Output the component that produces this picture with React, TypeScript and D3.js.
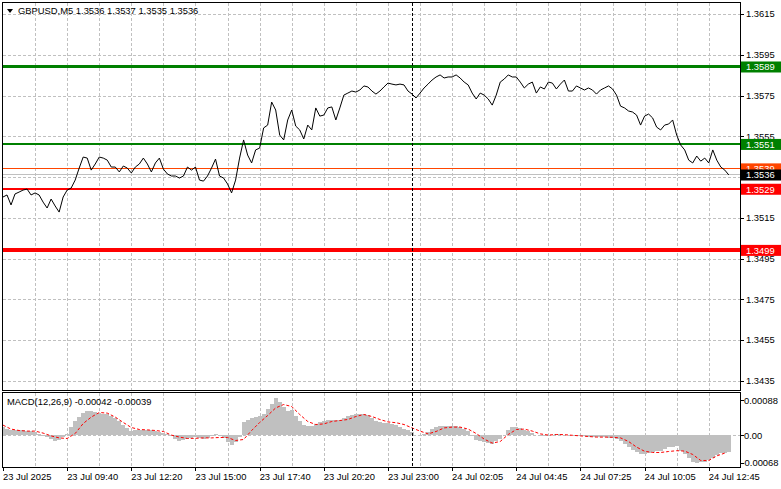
import * as d3 from "d3";

// GBPUSD M5 with MACD(12,26,9)

const symbolTitle = "GBPUSD,M5  1.3536 1.3537 1.3535 1.3536";
const macdTitle = "MACD(12,26,9) -0.00042 -0.00039";

const priceTicks = [1.3615, 1.3595, 1.3575, 1.3555, 1.3535, 1.3515, 1.3495, 1.3475, 1.3455, 1.3435];
const macdTicks = [0.00088, 0, -0.00068];
const timeLabels = [
  "23 Jul 2025", "23 Jul 09:40", "23 Jul 12:20", "23 Jul 15:00", "23 Jul 17:40", "23 Jul 20:20",
  "23 Jul 23:00", "24 Jul 02:05", "24 Jul 04:45", "24 Jul 07:25", "24 Jul 10:05", "24 Jul 12:45",
];

// one close every 2 bars (10 min)
const closes = [
  1.35252, 1.35262, 1.35213, 1.35267, 1.35276, 1.35286, 1.35291, 1.35262, 1.35272, 1.35262,
  1.35227, 1.35198, 1.35242, 1.35208, 1.35178, 1.35252, 1.35286, 1.35296, 1.35335, 1.35394,
  1.35448, 1.35443, 1.35384, 1.35414, 1.35448, 1.35443, 1.35433, 1.35399, 1.35399, 1.35375,
  1.35404, 1.35394, 1.35370, 1.35399, 1.35414, 1.35443, 1.35414, 1.35375, 1.35419, 1.35443,
  1.35389, 1.35365, 1.35355, 1.35355, 1.35345, 1.35355, 1.35399, 1.35384, 1.35399, 1.35335,
  1.35330, 1.35355, 1.35394, 1.35438, 1.35355, 1.35345, 1.35316, 1.35272, 1.35335, 1.35443,
  1.35532, 1.35458, 1.35419, 1.35483, 1.35492, 1.35591, 1.35605, 1.35718, 1.35679, 1.35556,
  1.35532, 1.35630, 1.35679, 1.35600, 1.35581, 1.35537, 1.35605, 1.35581, 1.35689, 1.35649,
  1.35654, 1.35689, 1.35694, 1.35630, 1.35689, 1.35752, 1.35762, 1.35772, 1.35767, 1.35777,
  1.35797, 1.35792, 1.35772, 1.35757, 1.35772, 1.35792, 1.35811, 1.35806, 1.35802, 1.35806,
  1.35802, 1.35772, 1.35757, 1.35738, 1.35762, 1.35787, 1.35806, 1.35826, 1.35841, 1.35851,
  1.35836, 1.35841, 1.35841, 1.35851, 1.35836, 1.35816, 1.35802, 1.35762, 1.35733, 1.35762,
  1.35752, 1.35733, 1.35703, 1.35752, 1.35816, 1.35831, 1.35851, 1.35841, 1.35841, 1.35816,
  1.35787, 1.35806, 1.35816, 1.35762, 1.35792, 1.35782, 1.35816, 1.35811, 1.35782, 1.35806,
  1.35826, 1.35772, 1.35772, 1.35797, 1.35787, 1.35777, 1.35787, 1.35777, 1.35757, 1.35777,
  1.35787, 1.35797, 1.35782, 1.35752, 1.35698, 1.35689, 1.35674, 1.35669, 1.35654, 1.35605,
  1.35649, 1.35659, 1.35640, 1.35595, 1.35581, 1.35605, 1.35610, 1.35630, 1.35556, 1.35507,
  1.35483, 1.35433, 1.35419, 1.35453, 1.35428, 1.35443, 1.35419, 1.35483, 1.35433, 1.35399,
  1.35384, 1.35360,
];

// MACD main (histogram), same spacing as closes
const macdHist = [
  0.000225, 0.000175, 0.00015, 0.000125, 0.000125, 0.000125, 0.0001, 0.0001, 0.000075, 0.000025,
  -0.000025, -0.00005, -0.0001, -0.00015, -0.000125, -0.00005, 0.000025, 0.000225, 0.000375, 0.000475,
  0.000575, 0.000625, 0.000625, 0.0006, 0.000575, 0.00055, 0.00055, 0.0005, 0.00045, 0.000375,
  0.000275, 0.0002, 0.0001, 0.000125, 0.00015, 0.00015, 0.000125, 0.000125, 0.0001, 0.000075,
  0.00005, 0.000025, -0.000025, -0.0001, -0.00015, -0.000125, -0.0001, -0.000075, -0.00005, -0.000075,
  -0.0001, -0.000075, -0.000025, 0.000025, -0.000025, -0.000075, -0.000175, -0.00025, -0.000175, -0.00005,
  0.00035, 0.0004, 0.00045, 0.000475, 0.0005, 0.00055, 0.000675, 0.0008, 0.00095, 0.00085,
  0.000725, 0.000625, 0.00065, 0.0005, 0.000375, 0.000275, 0.00025, 0.00025, 0.0003, 0.00035,
  0.000375, 0.0004, 0.0004, 0.0004, 0.0004, 0.00045, 0.0005, 0.000525, 0.00055, 0.00055,
  0.00055, 0.000525, 0.00045, 0.000375, 0.00035, 0.000325, 0.000325, 0.0003, 0.000275, 0.000225,
  0.000175, 0.000125, 0.000075, 0, -0.000025, 0.000025, 0.000075, 0.000175, 0.000225, 0.00025,
  0.00025, 0.00025, 0.00025, 0.00025, 0.000225, 0.000175, 0.0001, -0.000025, -0.000125, -0.00015,
  -0.000175, -0.0002, -0.000225, -0.00015, -0.0001, 0, 0.000125, 0.000225, 0.000225, 0.0002,
  0.00015, 0.0001, 0.00005, 0, -0.000025, -0.000025, -0.000025, 0, 0.000025, 0.000025,
  0, 0, 0, -0.000025, -0.000025, -0.000025, -0.00005, -0.00005, -0.00005, -0.00005,
  -0.00005, -0.000075, -0.000075, -0.0001, -0.00015, -0.000225, -0.0003, -0.000375, -0.000425, -0.000475,
  -0.000475, -0.00045, -0.000425, -0.0004, -0.0004, -0.00035, -0.0003, -0.0003, -0.000275, -0.0004,
  -0.000475, -0.000575, -0.000675, -0.0007, -0.000675, -0.000675, -0.000625, -0.000575, -0.0005, -0.00045,
  -0.00043, -0.00042,
];

// signal line, one value every 4 bars
const macdSignal = [
  0.00026, 0.00016, 0.000125, 0.00011, 0.00011, 0.00006, -0.00001, -0.00006, -0.000075, 0.00005,
  0.0003, 0.00046, 0.000575, 0.00056, 0.00046, 0.000325, 0.0002, 0.00015, 0.00014, 0.000125,
  0.0001, 0.00001, -0.00004, -0.000075, -0.00007, -0.00006, -0.00006, -0.00005, -0.00005, -0.000125,
  -0.0001, 0.000125, 0.000325, 0.0005, 0.00069, 0.000775, 0.000725, 0.000525, 0.00035, 0.000275,
  0.00029, 0.00035, 0.000375, 0.0004, 0.000475, 0.000525, 0.000475, 0.0004, 0.00034, 0.00032,
  0.000275, 0.00019, 0.00011, 0.00004, 0.0001, 0.00019, 0.00021, 0.00021, 0.00016, 0.00005,
  -0.00009, -0.00019, -0.00015, 0.000025, 0.00015, 0.00016, 0.00011, 0.00004, 0.00001, 0.000025,
  0.00002, 0.000005, -0.00001, -0.000025, -0.00004, -0.00004, -0.000045, -0.00006, -0.00015, -0.00029,
  -0.000395, -0.000425, -0.000425, -0.0004, -0.00038, -0.00039, -0.000475, -0.000625, -0.000625, -0.00051,
  -0.00044,
];

// horizontal levels drawn on the chart
const levelPrices = [1.3589, 1.3551, 1.3539, 1.3529, 1.3499];
const bidPrice = 1.3536;
const daySeparatorBar = 204;

const W = 781;
const H = 489;
const left = 3;
const right = 740;
const mainTop = 3;
const mainBottom = 391;
const macdTop = 393;
const macdBottom = 467;
const barCount = 362;
const font = "'Liberation Sans', Arial, sans-serif";
const fs = 9.4;

const levelStyle = [
  { color: "#008000", width: 3 },
  { color: "#008000", width: 2 },
  { color: "#FF4500", width: 1 },
  { color: "#FF0000", width: 2 },
  { color: "#FF0000", width: 4 },
];

export default function App() {
  const x = d3.scaleLinear().domain([0, barCount]).range([left, left + barCount * 2.005]);
  const y = d3.scaleLinear().domain([1.343, 1.36204]).range([mainBottom, mainTop]);
  const ym = d3.scaleLinear().domain([-0.000788, 0.001063]).range([macdBottom, macdTop]);

  const priceLine = d3.line<number>()
    .x((_, i) => x(i * 2))
    .y(d => y(d));
  const signalLine = d3.line<number>()
    .x((_, i) => x(i * 4))
    .y(d => ym(d));

  const gridBars = d3.range(16, barCount + 1, 16).filter(b => x(b) < right - 2);
  const labelBars = timeLabels.map((_, i) => i * 32);

  // order so the bid box sits above the orange one, like the terminal
  const boxOrder = [2, 0, 1, 3, 4];

  return (
    <svg width={W} height={H} style={{ position: "absolute", left: 0, top: 0, background: "#fff" }}
      fontFamily={font} fontSize={fs}>
      <defs>
        <clipPath id="mainClip"><rect x={left} y={mainTop} width={right - left} height={mainBottom - mainTop} /></clipPath>
        <clipPath id="macdClip"><rect x={left} y={macdTop} width={right - left} height={macdBottom - macdTop} /></clipPath>
      </defs>
      <rect width={W} height={H} fill="#fff" />

      {/* grid */}
      <g stroke="#C0C0C0" strokeDasharray="3,2" shapeRendering="crispEdges">
        {priceTicks.map(p => (
          <line key={"h" + p} x1={left} x2={right} y1={Math.round(y(p)) + 0.5} y2={Math.round(y(p)) + 0.5} />
        ))}
        {gridBars.map(b => (
          <g key={"v" + b}>
            <line x1={Math.round(x(b)) + 0.5} x2={Math.round(x(b)) + 0.5} y1={mainTop} y2={mainBottom} />
            <line x1={Math.round(x(b)) + 0.5} x2={Math.round(x(b)) + 0.5} y1={macdTop} y2={macdBottom} />
          </g>
        ))}
        <line x1={left} x2={right} y1={Math.round(ym(0)) + 0.5} y2={Math.round(ym(0)) + 0.5} />
      </g>

      {/* levels */}
      <g clipPath="url(#mainClip)" shapeRendering="crispEdges">
        <line x1={left} x2={right} y1={y(bidPrice)} y2={y(bidPrice)} stroke="#C0C0C0" />
        {levelPrices.map((p, i) => (
          <line key={p} x1={left} x2={right} y1={y(p)} y2={y(p)}
            stroke={levelStyle[i].color} strokeWidth={levelStyle[i].width} />
        ))}
        <path d={priceLine(closes) ?? ""} fill="none" stroke="#000" strokeWidth={1} shapeRendering="auto" />
      </g>

      {/* macd */}
      <g clipPath="url(#macdClip)">
        <g fill="#C0C0C0" shapeRendering="crispEdges">
          {macdHist.map((v, i) => (
            <rect key={i} x={x(i * 2) - 2} width={4.01}
              y={Math.min(ym(v), ym(0))} height={Math.abs(ym(v) - ym(0))} />
          ))}
        </g>
        <path d={signalLine(macdSignal) ?? ""} fill="none" stroke="#FF0000" strokeWidth={1} strokeDasharray="3,2" />
      </g>

      {/* day separator */}
      <line x1={Math.round(x(daySeparatorBar)) + 0.5} x2={Math.round(x(daySeparatorBar)) + 0.5}
        y1={mainTop} y2={macdBottom} stroke="#000" strokeDasharray="3,2" shapeRendering="crispEdges" />

      {/* frames */}
      <g fill="none" stroke="#000" shapeRendering="crispEdges">
        <rect x={left - 0.5} y={mainTop - 0.5} width={right - left + 1} height={mainBottom - mainTop} />
        <rect x={left - 0.5} y={macdTop - 0.5} width={right - left + 1} height={macdBottom - macdTop + 1} />
      </g>

      {/* price axis */}
      <g shapeRendering="crispEdges">
        {priceTicks.map(p => (
          <g key={"t" + p}>
            <line x1={right} x2={right + 4} y1={Math.round(y(p)) + 0.5} y2={Math.round(y(p)) + 0.5} stroke="#000" />
            <text x={right + 6} y={y(p)} dy="0.35em" fill="#000">{p.toFixed(4)}</text>
          </g>
        ))}
        {macdTicks.map(v => (
          <g key={"m" + v}>
            <line x1={right} x2={right + 4} y1={Math.round(ym(v)) + 0.5} y2={Math.round(ym(v)) + 0.5} stroke="#000" />
            <text x={v < 0 ? right + 1.5 : right + 4} y={ym(v)} dy="0.35em" fill="#000">
              {v === 0 ? "0.00" : v.toFixed(5)}
            </text>
          </g>
        ))}
      </g>

      {/* level price boxes */}
      {boxOrder.map(i => {
        const p = levelPrices[i];
        const yy = y(p);
        return (
          <g key={"b" + p}>
            <rect x={right + 1} y={yy - 5.5} width={W - right - 1} height={11} fill={levelStyle[i].color} />
            <text x={right + 6} y={yy} dy="0.35em" fill="#fff">{p.toFixed(4)}</text>
          </g>
        );
      })}
      <g>
        <rect x={right + 1} y={y(bidPrice) - 5.5} width={W - right - 1} height={11} fill="#000" />
        <text x={right + 6} y={y(bidPrice)} dy="0.35em" fill="#fff">{bidPrice.toFixed(4)}</text>
      </g>

      {/* time axis */}
      {labelBars.map((b, i) => (
        <g key={"x" + b}>
          <line x1={Math.round(x(b)) + 0.5} x2={Math.round(x(b)) + 0.5} y1={macdBottom} y2={macdBottom + 4}
            stroke="#000" shapeRendering="crispEdges" />
          <text x={x(b)} y={477} dy="0.35em" fill="#000">{timeLabels[i]}</text>
        </g>
      ))}

      {/* titles */}
      <path d="M7,9 L13,9 L10,13 Z" fill="#000" />
      <text x={18} y={11} dy="0.35em" fill="#000">{symbolTitle}</text>
      <text x={7} y={402} dy="0.35em" fill="#000">{macdTitle}</text>
    </svg>
  );
}
